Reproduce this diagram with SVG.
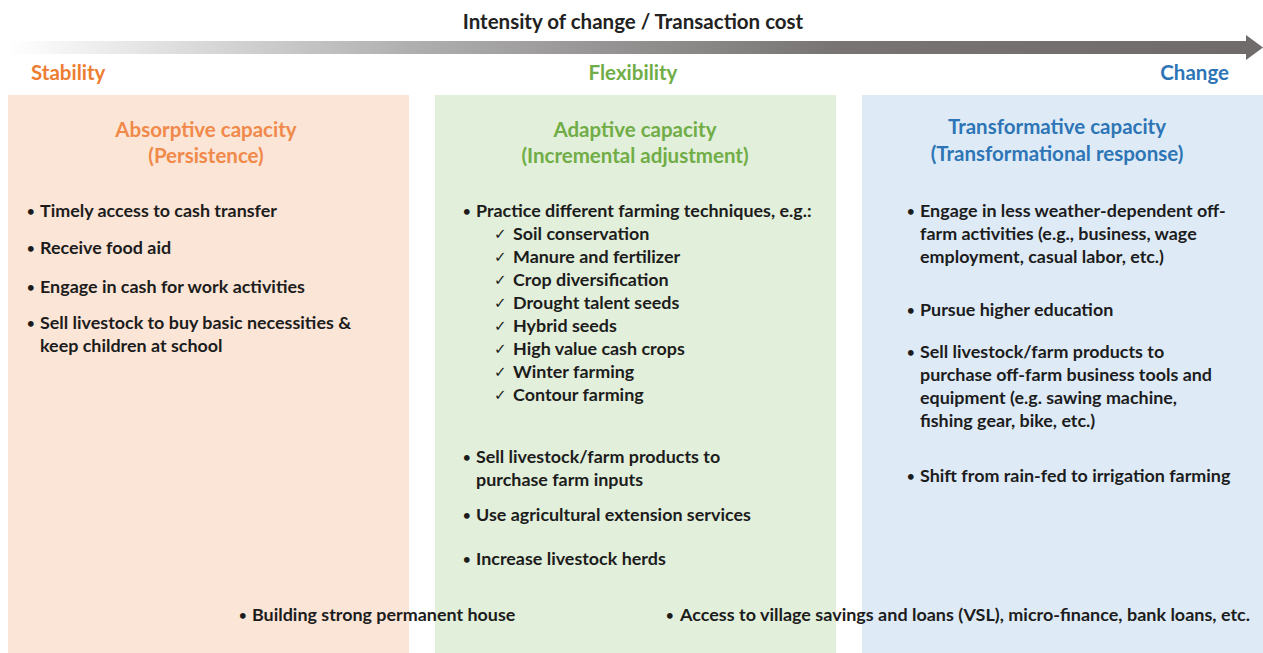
<svg xmlns="http://www.w3.org/2000/svg" width="1263" height="653" viewBox="0 0 1263 653">
<defs>
<linearGradient id="arrowGrad" x1="0" y1="0" x2="1" y2="0">
<stop offset="0" stop-color="#ffffff"/>
<stop offset="0.33" stop-color="#aeadad"/>
<stop offset="0.66" stop-color="#787474"/>
<stop offset="1" stop-color="#6f6b6b"/>
</linearGradient>
<style>
text{font-family:Lato,"Open Sans","Liberation Sans",sans-serif;font-weight:bold;}
.t{font-size:17.9px;fill:#1c1c1c;}
.b{font-size:13px;}
.c{font-size:15px;font-weight:normal;font-family:"DejaVu Sans",sans-serif;}
.h{font-size:20.5px;text-anchor:middle;}
.lab{font-size:20.5px;}
.or{fill:#ED7D31;}
.ho{fill:#F0894A;}
.gr{fill:#70AD47;}
.bl{fill:#2E75B6;}
</style>
</defs>
<rect width="1263" height="653" fill="#ffffff"/>
<g id="axis">
<text x="633" y="29" class="lab" text-anchor="middle" fill="#222">Intensity of change / Transaction cost</text>
<path d="M8 41 H1246 V35 L1263 47.5 L1246 60 V54 H8 Z" fill="url(#arrowGrad)"/>
<text x="31" y="80" class="lab or">Stability</text>
<text x="633" y="80" class="lab gr" text-anchor="middle">Flexibility</text>
<text x="1229" y="80" class="lab bl" text-anchor="end">Change</text>
</g>
<g id="absorptive">
<rect x="8" y="95" width="401" height="558" fill="#FBE5D6"/>
<text x="206" y="137" class="h ho">Absorptive capacity</text>
<text x="206" y="163" class="h ho">(Persistence)</text>
<text class="t"><tspan x="27" y="216" class="b">•</tspan><tspan x="40" y="217">Timely access to cash transfer</tspan></text>
<text class="t"><tspan x="27" y="253" class="b">•</tspan><tspan x="40" y="254">Receive food aid</tspan></text>
<text class="t"><tspan x="27" y="292" class="b">•</tspan><tspan x="40" y="293">Engage in cash for work activities</tspan></text>
<text class="t"><tspan x="27" y="328" class="b">•</tspan><tspan x="40" y="329">Sell livestock to buy basic necessities &amp;</tspan><tspan x="40" y="352">keep children at school</tspan></text>
</g>
<g id="adaptive">
<rect x="435" y="95" width="401" height="558" fill="#E2EFDA"/>
<text x="635" y="137" class="h gr">Adaptive capacity</text>
<text x="635" y="163" class="h gr">(Incremental adjustment)</text>
<text class="t"><tspan x="463" y="216" class="b">•</tspan><tspan x="476" y="217">Practice different farming techniques, e.g.:</tspan></text>
<text class="t"><tspan x="494" y="239" class="c">✓</tspan><tspan x="513" y="240">Soil conservation</tspan></text>
<text class="t"><tspan x="494" y="262" class="c">✓</tspan><tspan x="513" y="263">Manure and fertilizer</tspan></text>
<text class="t"><tspan x="494" y="285" class="c">✓</tspan><tspan x="513" y="286">Crop diversification</tspan></text>
<text class="t"><tspan x="494" y="308" class="c">✓</tspan><tspan x="513" y="309">Drought talent seeds</tspan></text>
<text class="t"><tspan x="494" y="331" class="c">✓</tspan><tspan x="513" y="332">Hybrid seeds</tspan></text>
<text class="t"><tspan x="494" y="354" class="c">✓</tspan><tspan x="513" y="355">High value cash crops</tspan></text>
<text class="t"><tspan x="494" y="377" class="c">✓</tspan><tspan x="513" y="378">Winter farming</tspan></text>
<text class="t"><tspan x="494" y="400" class="c">✓</tspan><tspan x="513" y="401">Contour farming</tspan></text>
<text class="t"><tspan x="463" y="462" class="b">•</tspan><tspan x="476" y="463">Sell livestock/farm products to</tspan><tspan x="476" y="486">purchase farm inputs</tspan></text>
<text class="t"><tspan x="463" y="520" class="b">•</tspan><tspan x="476" y="521">Use agricultural extension services</tspan></text>
<text class="t"><tspan x="463" y="564" class="b">•</tspan><tspan x="476" y="565">Increase livestock herds</tspan></text>
</g>
<g id="transformative">
<rect x="862" y="95" width="401" height="558" fill="#DEEBF7"/>
<text x="1057" y="134" class="h bl">Transformative capacity</text>
<text x="1057" y="161" class="h bl">(Transformational response)</text>
<text class="t"><tspan x="907" y="216" class="b">•</tspan><tspan x="920" y="217">Engage in less weather-dependent off-</tspan><tspan x="920" y="240">farm activities (e.g., business, wage</tspan><tspan x="920" y="263">employment, casual labor, etc.)</tspan></text>
<text class="t"><tspan x="907" y="315" class="b">•</tspan><tspan x="920" y="316">Pursue higher education</tspan></text>
<text class="t"><tspan x="907" y="357" class="b">•</tspan><tspan x="920" y="358">Sell livestock/farm products to</tspan><tspan x="920" y="381">purchase off-farm business tools and</tspan><tspan x="920" y="404">equipment (e.g. sawing machine,</tspan><tspan x="920" y="427">fishing gear, bike, etc.)</tspan></text>
<text class="t"><tspan x="907" y="481" class="b">•</tspan><tspan x="920" y="482">Shift from rain-fed to irrigation farming</tspan></text>
</g>
<g id="shared">
<text class="t"><tspan x="239" y="620" class="b">•</tspan><tspan x="252" y="621">Building strong permanent house</tspan></text>
<text class="t"><tspan x="666" y="620" class="b">•</tspan><tspan x="680" y="621" textLength="570" lengthAdjust="spacingAndGlyphs">Access to village savings and loans (VSL), micro-finance, bank loans, etc.</tspan></text>
</g>
<g id="connectors"></g>
</svg>
